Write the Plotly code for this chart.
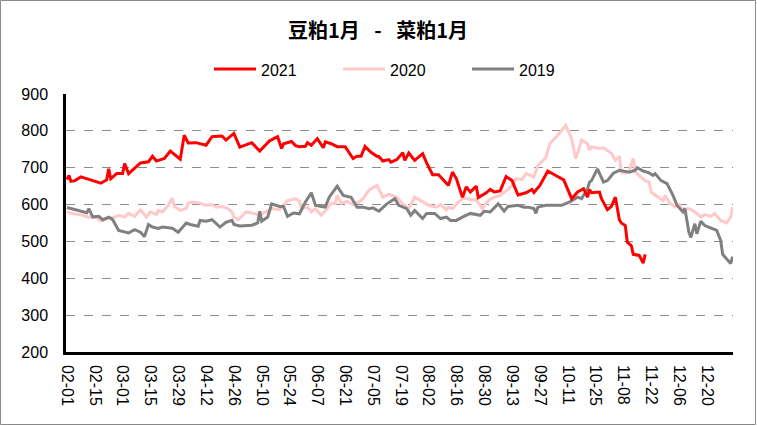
import pandas as pd
import plotly.graph_objects as go

# ---- category axis (month-day) ----
all_days = [d.strftime("%m-%d") for d in pd.date_range("2021-02-01", "2021-12-31")] + ["01-01", "01-02"]
tick_labels = ["02-01", "02-15", "03-01", "03-15", "03-29", "04-12", "04-26", "05-10", "05-24",
               "06-07", "06-21", "07-05", "07-19", "08-02", "08-16", "08-30", "09-13", "09-27",
               "10-11", "10-25", "11-08", "11-22", "12-06", "12-20"]
y_ticks = [200, 300, 400, 500, 600, 700, 800, 900]

# ---- 2021 ----
dates_2021 = ["02-01", "02-02", "02-03", "02-05", "02-08", "02-18", "02-21", "02-22", "02-23", "02-26",
              "03-01", "03-02", "03-04", "03-08", "03-10", "03-14", "03-16", "03-18", "03-22", "03-25",
              "03-30", "04-01", "04-03", "04-07", "04-09", "04-12", "04-15", "04-20", "04-22", "04-26",
              "04-29", "05-05", "05-09", "05-14", "05-18", "05-20", "05-21", "05-24", "05-25", "05-27",
              "05-29", "06-01", "06-02", "06-04", "06-07", "06-10", "06-11", "06-14", "06-17", "06-21",
              "06-22", "06-25", "06-27", "06-29", "07-01", "07-04", "07-07", "07-08", "07-10", "07-13",
              "07-14", "07-17", "07-20", "07-21", "07-23", "07-26", "07-30", "08-01", "08-04", "08-07",
              "08-12", "08-14", "08-16", "08-19", "08-21", "08-23", "08-26", "08-27", "08-31", "09-02",
              "09-04", "09-07", "09-10", "09-13", "09-16", "09-20", "09-23", "09-24", "09-27", "10-01",
              "10-05", "10-09", "10-13", "10-16", "10-19", "10-21", "10-22", "10-23", "10-27", "10-28",
              "10-31", "11-02", "11-04", "11-06", "11-07", "11-09", "11-10", "11-12", "11-13", "11-16",
              "11-18", "11-19"]
vals_2021 = [668, 679, 663, 665, 675, 658, 667, 697, 670, 684,
             684, 711, 684, 702, 713, 716, 731, 718, 725, 745,
             723, 788, 767, 768, 765, 761, 784, 786, 775, 793,
             756, 768, 745, 773, 784, 752, 765, 768, 771, 760,
             757, 758, 768, 761, 779, 754, 770, 765, 757, 757,
             748, 725, 731, 731, 758, 742, 731, 730, 718, 722,
             715, 722, 741, 720, 740, 720, 738, 713, 681, 681,
             652, 688, 670, 620, 648, 634, 650, 619, 632, 641,
             634, 637, 676, 665, 626, 632, 641, 633, 652, 691,
             679, 667, 616, 634, 643, 620, 641, 632, 634, 616,
             586, 595, 620, 559, 550, 543, 498, 489, 465, 462,
             441, 465]

# ---- 2020 ----
dates_2020 = ["02-01", "02-03", "02-09", "02-12", "02-15", "02-18", "02-22", "02-25", "02-27", "03-02",
              "03-04", "03-07", "03-10", "03-13", "03-15", "03-18", "03-19", "03-21", "03-24", "03-26",
              "03-27", "03-30", "04-02", "04-03", "04-05", "04-09", "04-12", "04-15", "04-17", "04-20",
              "04-23", "04-25", "04-26", "04-28", "04-30", "05-02", "05-05", "05-09", "05-12", "05-15",
              "05-19", "05-23", "05-25", "05-27", "05-29", "05-30", "06-02", "06-04", "06-06", "06-09",
              "06-12", "06-14", "06-16", "06-17", "06-19", "06-22", "06-25", "06-28", "06-30", "07-03",
              "07-07", "07-10", "07-13", "07-17", "07-20", "07-23", "07-26", "07-29", "08-02", "08-06",
              "08-08", "08-11", "08-12", "08-14", "08-17", "08-20", "08-23", "08-26", "08-28", "08-29",
              "09-01", "09-04", "09-07", "09-11", "09-13", "09-15", "09-18", "09-20", "09-24", "09-26",
              "09-30", "10-02", "10-06", "10-10", "10-13", "10-15", "10-16", "10-18", "10-21", "10-22",
              "10-23", "10-27", "10-29", "11-02", "11-04", "11-06", "11-07", "11-09", "11-11", "11-13",
              "11-14", "11-17", "11-19", "11-21", "11-22", "11-25", "11-28", "11-29", "12-01", "12-04",
              "12-06", "12-08", "12-09", "12-11", "12-13", "12-15", "12-17", "12-19", "12-22", "12-24",
              "12-27", "12-30", "01-01", "01-02"]
vals_2020 = [581, 576, 571, 565, 568, 555, 563, 566, 571, 566,
             576, 568, 586, 566, 580, 573, 584, 580, 598, 618,
             595, 584, 589, 604, 607, 604, 598, 600, 593, 595,
             589, 580, 566, 559, 568, 580, 577, 572, 580, 589,
             586, 611, 613, 616, 609, 589, 593, 580, 589, 571,
             589, 604, 602, 625, 604, 609, 600, 607, 616, 639,
             652, 620, 628, 620, 602, 589, 620, 611, 598, 593,
             600, 586, 593, 589, 607, 619, 613, 613, 598, 589,
             611, 620, 625, 641, 652, 670, 668, 684, 675, 706,
             727, 765, 788, 815, 779, 725, 739, 775, 765, 748,
             757, 752, 754, 739, 720, 731, 688, 685, 693, 725,
             688, 675, 665, 661, 634, 622, 611, 625, 607, 593,
             600, 584, 589, 589, 584, 576, 566, 573, 568, 576,
             557, 550, 566, 593]

# ---- 2019 ----
dates_2019 = ["02-01", "02-06", "02-11", "02-12", "02-14", "02-17", "02-19", "02-22", "02-24", "02-27",
              "03-04", "03-07", "03-10", "03-12", "03-14", "03-16", "03-19", "03-21", "03-26", "03-29",
              "04-02", "04-04", "04-08", "04-09", "04-12", "04-15", "04-19", "04-22", "04-25", "04-26",
              "04-29", "05-05", "05-08", "05-09", "05-10", "05-13", "05-15", "05-19", "05-21", "05-23",
              "05-26", "05-29", "06-01", "06-04", "06-06", "06-09", "06-11", "06-13", "06-17", "06-20",
              "06-24", "06-27", "06-30", "07-03", "07-05", "07-08", "07-12", "07-16", "07-18", "07-22",
              "07-24", "07-26", "07-30", "08-01", "08-05", "08-08", "08-11", "08-13", "08-16", "08-19",
              "08-23", "08-28", "08-30", "09-02", "09-06", "09-09", "09-11", "09-16", "09-19", "09-21",
              "09-24", "09-25", "09-26", "09-30", "10-08", "10-12", "10-16", "10-18", "10-21", "10-22",
              "10-23", "10-26", "10-29", "10-31", "11-03", "11-06", "11-09", "11-11", "11-14", "11-15",
              "11-18", "11-21", "11-23", "11-24", "11-27", "11-30", "12-03", "12-05", "12-08", "12-09",
              "12-11", "12-12", "12-14", "12-15", "12-17", "12-19", "12-21", "12-25", "12-27", "12-28",
              "01-01", "01-02"]
vals_2019 = [592, 584, 578, 589, 566, 568, 559, 566, 559, 530,
             523, 532, 525, 513, 546, 539, 535, 539, 536, 525,
             550, 546, 541, 557, 555, 559, 539, 552, 557, 546,
             542, 544, 550, 582, 555, 566, 602, 595, 595, 568,
             577, 575, 607, 632, 598, 595, 593, 620, 650, 625,
             620, 593, 593, 589, 591, 582, 602, 616, 598, 589,
             571, 584, 562, 576, 576, 562, 566, 557, 557, 566,
             576, 571, 582, 580, 602, 582, 595, 598, 593, 593,
             589, 576, 593, 598, 598, 607, 620, 616, 643, 661,
             665, 697, 661, 665, 685, 693, 691, 688, 693, 700,
             691, 686, 679, 684, 665, 657, 625, 598, 580, 589,
             525, 511, 548, 521, 555, 543, 539, 530, 503, 465,
             440, 459]

series = [("2020", dates_2020, vals_2020, "#FFC9C9"),
          ("2019", dates_2019, vals_2019, "#808080"),
          ("2021", dates_2021, vals_2021, "#FF0000")]

fig = go.Figure()
for name, xs, ys, col in series:
    fig.add_trace(go.Scatter(x=xs, y=ys, mode="lines", name=name,
                             line=dict(color=col, width=3), showlegend=False))

W, H = 757, 426
ml, mr, mt, mb = 66, 24, 94, 74
pw, ph = W - ml - mr, H - mt - mb


def px_x(p):
    return (p - ml) / pw


def px_y(p):
    return (mt + ph - p) / ph


# manual legend (line sample + label) in reference order
legend_items = [("2021", "#FF0000", 214), ("2020", "#FFC9C9", 343), ("2019", "#808080", 472)]
shapes = [dict(type="rect", xref="paper", yref="paper",
               x0=px_x(0.5), x1=px_x(755.5), y0=px_y(424.5), y1=px_y(0.5),
               line=dict(color="#8a8a8a", width=1), layer="below")]
annotations = []
for label, col, x0 in legend_items:
    shapes.append(dict(type="line", xref="paper", yref="paper",
                       x0=px_x(x0), x1=px_x(x0 + 42), y0=px_y(69), y1=px_y(69),
                       line=dict(color=col, width=3)))
    annotations.append(dict(xref="paper", yref="paper", x=px_x(x0 + 45), y=px_y(70),
                            xanchor="left", yanchor="middle", showarrow=False, text=label,
                            font=dict(family="Liberation Sans, Arial", size=16, color="black")))

fig.update_layout(
    width=W, height=H,
    margin=dict(l=ml, r=mr, t=mt, b=mb),
    paper_bgcolor="white", plot_bgcolor="white",
    font=dict(family="Liberation Sans, Arial", size=16, color="black"),
    title=dict(text="<b>豆粕1月\u2002\u00a0-\u00a0\u2002菜粕1月</b>", x=px_x(378), xref="paper", xanchor="center",
               y=1 - 31 / H, yanchor="middle",
               font=dict(family="Noto Sans CJK SC", size=20, color="black")),
    showlegend=False,
    hovermode=False,
    xaxis=dict(type="category", categoryorder="array", categoryarray=all_days,
               range=[-0.5, len(all_days) - 0.8],
               tickmode="array", tickvals=tick_labels, ticktext=tick_labels, tickangle=90,
               showgrid=False, showline=True, linecolor="black", linewidth=2.5, ticks="",
               ticklabelstandoff=7, tickfont=dict(size=16)),
    yaxis=dict(range=[200, 900], tickvals=y_ticks, showgrid=True, gridcolor="#8c8c8c",
               griddash="dash", gridwidth=1, showline=True, linecolor="black", linewidth=2.5,
               ticks="", ticklabelstandoff=12, zeroline=False, tickfont=dict(size=16)),
    shapes=shapes,
    annotations=annotations,
)

fig.write_html("out.html", config={"displayModeBar": False},
               post_script="document.body.style.margin='0';")
